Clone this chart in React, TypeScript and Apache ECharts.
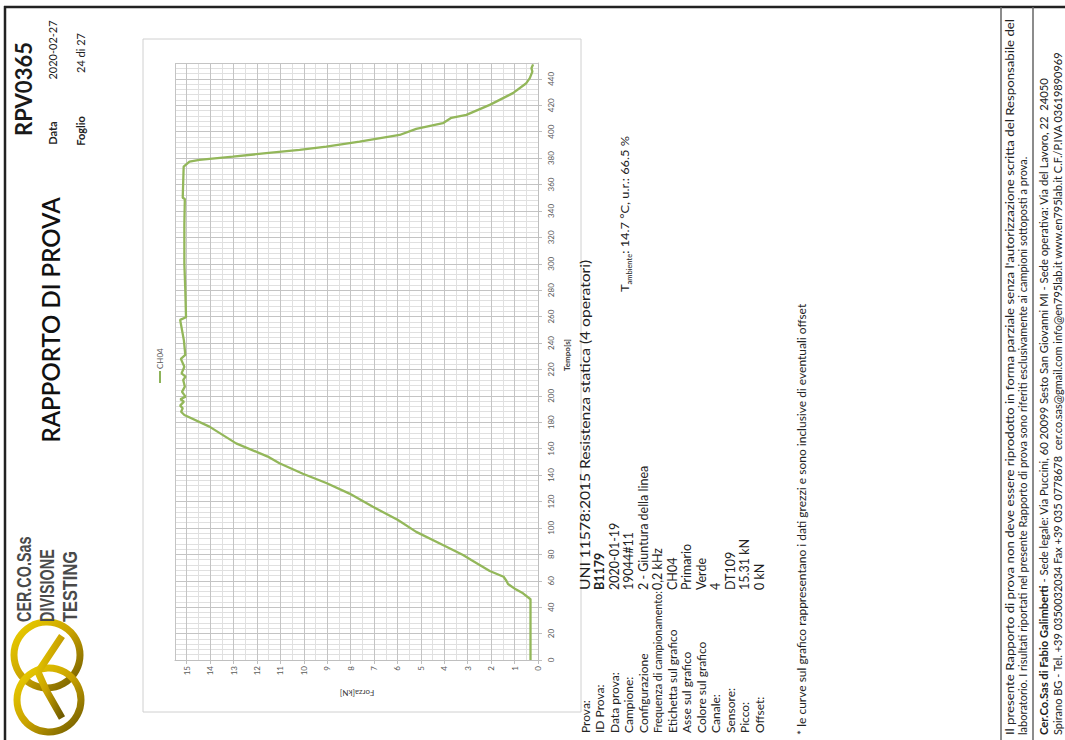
import React, { useEffect, useRef } from "react";
import * as echarts from "echarts";

// ---- data (time [s] vs force [kN]) ----
const timeS = [0, 46, 50.5, 53.5, 57.5, 60, 63, 67.4, 72, 75.7, 79.5, 87, 97, 106, 116, 126, 134, 141, 149, 154, 164, 176.7, 185.5, 188, 190.6, 192.6, 195.6, 197.4, 199.4, 203, 207, 212, 214.5, 217, 222, 228, 231, 242, 257.5, 259.5, 280, 300, 330, 349, 350, 373.6, 377.4, 378.6, 381.1, 383.7, 386.2, 388.7, 392.5, 397.5, 402.1, 406.4, 410.5, 412.7, 420.3, 429.2, 436.7, 440.5, 445.5, 448, 451];
const forceKN = [0.32, 0.32, 0.64, 0.95, 1.28, 1.35, 1.47, 2.06, 2.49, 2.85, 3.2, 4.06, 5.2, 5.98, 7.05, 8.05, 9.04, 10.04, 11.04, 11.54, 12.89, 14.03, 15.1, 15.24, 15.17, 15.28, 15.12, 15.27, 15.05, 15.2, 15.08, 15.15, 15.05, 15.22, 15.1, 15.25, 15.06, 15.12, 15.28, 15.03, 15.06, 15.1, 15.1, 15.08, 15.17, 15.13, 14.88, 14.46, 13.03, 11.61, 10.18, 9.04, 7.62, 5.91, 5.2, 4.06, 3.7, 3.06, 2.06, 1.07, 0.5, 0.35, 0.24, 0.28, 0.21];

const seriesName = "CH04";
const xTitle = "Tempo[s]";
const yTitle = "Forza[kN]";

const infoLabels = ["Prova:", "ID Prova:", "Data prova:", "Campione:", "Configurazione", "Frequenza di campionamento:", "Etichetta sul grafico", "Asse sul grafico", "Colore sul grafico", "Canale:", "Sensore:", "Picco:", "Offset:"];
const infoValues = ["UNI 11578:2015 Resistenza statica (4 operatori)", "B1179", "2020-01-19", "19044#11", "2 - Giuntura della linea", "0,2 kHz", "CH04", "Primario", "Verde", "4", "DT109", "15.31 kN", "0 kN"];

const footer1 = "Il presente Rapporto di prova non deve essere riprodotto in forma parziale senza l'autorizzazione scritta del Responsabile del";
const footer2 = "laboratorio. I risultati riportati nel presente Rapporto di prova sono riferiti esclusivamente ai campioni sottoposti a prova.";
const company1Bold = "Cer.Co.Sas di Fabio Galimberti";
const company1Rest = " - Sede legale: Via Puccini, 60 20099 Sesto San Giovanni MI - Sede operativa: Via del Lavoro, 22  24050";
const company2 = "Spirano BG - Tel. +39 0350032034 Fax +39 035 0778678  cer.co.sas@gmail.com info@en795lab.it www.en795lab.it C.F./P.IVA 03619890969";

const R = Math.PI / 2;
const FONT = "Lato";

function vt(text: string, x: number, y: number, size: number, opts: any = {}) {
  const align = opts.align || "left";
  return {
    type: "text",
    x,
    y,
    rotation: opts.rot !== undefined ? opts.rot : R,
    scaleX: opts.sx || 1,
    silent: true,
    z: 10,
    style: {
      text,
      fontSize: size,
      fontFamily: opts.family || FONT,
      fontWeight: opts.bold ? "bold" : opts.weight || "normal",
      fill: opts.color || "#222",
      align,
      verticalAlign: "middle",
      textAlign: align,
      textVerticalAlign: "middle",
      rich: opts.rich,
    },
  };
}

export default function App() {
  const ref = useRef<HTMLDivElement>(null);
  useEffect(() => {
    if (!ref.current) return;
    const chart = echarts.init(ref.current, null, { renderer: "svg" });
    const data = timeS.map((t, i) => [forceKN[i], t]);
    const gold = new echarts.graphic.LinearGradient(0, 0, 1, 1, [
      { offset: 0, color: "#ecd000" },
      { offset: 0.5, color: "#c9a200" },
      { offset: 1, color: "#6e5a00" },
    ]);
    const rowX0 = 585;
    const rowStep = 14.5;
    const graphics: any[] = [
      // page borders
      { type: "line", shape: { x1: 4, y1: 7, x2: 1065, y2: 7 }, style: { stroke: "#222", lineWidth: 2.5 } },
      { type: "line", shape: { x1: 5, y1: 6, x2: 5, y2: 740 }, style: { stroke: "#222", lineWidth: 2.5 } },
      { type: "line", shape: { x1: 1001, y1: 7, x2: 1001, y2: 740 }, style: { stroke: "#666", lineWidth: 1.5 } },
      { type: "line", shape: { x1: 1033, y1: 7, x2: 1033, y2: 740 }, style: { stroke: "#666", lineWidth: 1.5 } },
      // chart frame
      { type: "rect", shape: { x: 143, y: 39, width: 438, height: 673 }, style: { fill: "none", stroke: "#d0d0d0", lineWidth: 1 } },
      // logo rings
      { type: "circle", shape: { cx: 47, cy: 655, r: 33 }, style: { fill: "none", stroke: gold, lineWidth: 7 } },
      { type: "circle", shape: { cx: 49, cy: 700, r: 32 }, style: { fill: "none", stroke: gold, lineWidth: 7 } },
      { type: "polyline", shape: { points: [[62, 636], [38, 672], [46, 690], [62, 718]] }, style: { fill: "none", stroke: gold, lineWidth: 7 } },
      // logo text
      vt("CER.CO.Sas", 24, 622, 20, { family: "Liberation Sans", color: "#4a4a4a", sx: 0.72, bold: true }),
      vt("DIVISIONE", 47, 622, 20, { family: "Liberation Sans", color: "#4a4a4a", sx: 0.72, bold: true }),
      vt("TESTING", 70, 622, 20, { family: "Liberation Sans", color: "#4a4a4a", sx: 0.82, bold: true }),
      // header
      vt("RAPPORTO DI PROVA", 50, 320, 24, { align: "center", color: "#111", weight: 600 }),
      vt("RPV0365", 23, 89, 22, { align: "center", bold: true, color: "#1a1a1a" }),
      vt("Data", 52, 133, 11, { align: "center", bold: true }),
      vt("2020-02-27", 52, 50, 11, { align: "center" }),
      vt("Foglio", 80, 131, 11, { align: "center", bold: true }),
      vt("24 di 27", 80, 53, 11, { align: "center" }),
      // legend
      { type: "line", shape: { x1: 160, y1: 383, x2: 160, y2: 371 }, style: { stroke: "#8db35a", lineWidth: 2 } },
      vt(seriesName, 160, 369, 8, { color: "#595959" }),
      // axis titles
      vt(xTitle, 567, 355, 8, { align: "center", bold: true, color: "#404040" }),
      vt(yTitle, 357, 693, 8, { align: "center", color: "#404040", rot: Math.PI }),
      // ambient
      vt("{t|T}{s|ambiente}{t|: 14.7 °C, u.r.: 66.5 %}", 625, 292, 12, {
        sx: 1.07,
        rich: {
          t: { fontSize: 12, fontFamily: FONT, fill: "#222", lineHeight: 16, verticalAlign: "middle" },
          s: { fontSize: 7, fontFamily: FONT, fill: "#222", lineHeight: 16, verticalAlign: "bottom" },
        },
      }),
      // note
      vt("* le curve sul grafico rappresentano i dati grezzi e sono inclusive di eventuali offset", 801, 735, 12),
      // footer
      vt(footer1, 1010, 735, 11, { sx: 1.205 }),
      vt(footer2, 1022, 735, 11),
      vt("{b|" + company1Bold + "}{n|" + company1Rest + "}", 1044, 735, 11, {
        sx: 1.02,
        rich: {
          b: { fontSize: 11, fontFamily: FONT, fontWeight: "bold", fill: "#222" },
          n: { fontSize: 11, fontFamily: FONT, fill: "#222" },
        },
      }),
      vt(company2, 1057, 735, 11),
    ];
    infoLabels.forEach((l, i) =>
      graphics.push(vt(l, rowX0 + i * rowStep, 733, 12, { sx: i === 5 ? 0.9 : 1 }))
    );
    infoValues.forEach((v, i) =>
      graphics.push(vt(v, rowX0 + i * rowStep, 590, 12.5, { bold: i === 1, sx: i === 0 ? 1.25 : 1 }))
    );

    const axisLabel = { rotate: 90, fontSize: 8, color: "#595959", fontFamily: FONT };
    chart.setOption({
      animation: false,
      backgroundColor: "#fff",
      grid: { left: 175, right: 527, top: 63, bottom: 80 },
      xAxis: [
        {
          type: "value", inverse: true, position: "bottom", min: 0, max: 15.5, interval: 1, z: 2,
          axisLine: { show: true, lineStyle: { color: "#bfbfbf" } },
          axisTick: { show: true, length: 4, lineStyle: { color: "#bfbfbf" } },
          axisLabel: { ...axisLabel, margin: 6, showMaxLabel: false },
          splitLine: { show: true, lineStyle: { color: "#c4c4c4", width: 1 } },
        },
        {
          type: "value", inverse: true, position: "bottom", min: 0, max: 15.5, interval: 0.5, z: 1,
          axisLine: { show: false }, axisTick: { show: false }, axisLabel: { show: false },
          splitLine: { show: true, lineStyle: { color: "#e0e0e0", width: 1 } },
        },
      ],
      yAxis: [
        {
          type: "value", position: "right", min: 0, max: 452, interval: 20, z: 2,
          axisLine: { show: true, lineStyle: { color: "#bfbfbf" } },
          axisTick: { show: true, length: 4, lineStyle: { color: "#bfbfbf" } },
          axisLabel: { ...axisLabel, margin: 9, showMaxLabel: false },
          splitLine: { show: true, lineStyle: { color: "#c4c4c4", width: 1 } },
        },
        {
          type: "value", position: "right", min: 0, max: 452, interval: 4, z: 1,
          axisLine: { show: false }, axisTick: { show: false }, axisLabel: { show: false },
          splitLine: { show: true, lineStyle: { color: "#e0e0e0", width: 1 } },
        },
      ],
      series: [
        {
          name: seriesName, type: "line", xAxisIndex: 0, yAxisIndex: 0, data,
          showSymbol: false, symbol: "none", z: 5,
          lineStyle: { color: "#93b75a", width: 2.3 },
        },
      ],
      graphic: graphics,
    });
    return () => chart.dispose();
  }, []);
  return <div ref={ref} style={{ position: "absolute", left: 0, top: 0, width: 1065, height: 740, background: "#fff" }} />;
}
